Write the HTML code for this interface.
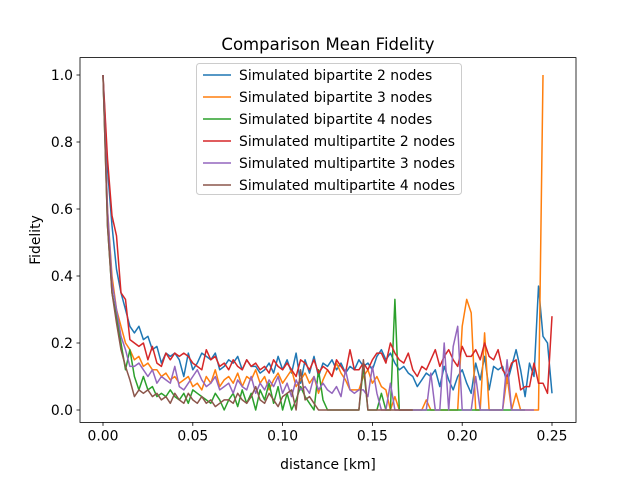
<!DOCTYPE html>
<html><head><meta charset="utf-8"><style>
body{margin:0;background:#fff}
svg{font-family:"DejaVu Sans","Liberation Sans",sans-serif}
</style></head><body>
<svg id="chart" width="640" height="480">
<rect width="640" height="480" fill="#fff"/>
<text x="328" y="50" font-size="16.5" text-anchor="middle">Comparison Mean Fidelity</text>
<g id="plot"></g>
<g id="axes"></g>
<g id="legend"></g>
</svg>
<script>
const step = 0.0025;
const seriesNames = ["Simulated bipartite 2 nodes","Simulated bipartite 3 nodes","Simulated bipartite 4 nodes","Simulated multipartite 2 nodes","Simulated multipartite 3 nodes","Simulated multipartite 4 nodes"];
const colors = ["#1f77b4","#ff7f0e","#2ca02c","#d62728","#9467bd","#8c564b"];
const xTicks = [0,0.05,0.10,0.15,0.20,0.25];
const xTickLabels = ["0.00","0.05","0.10","0.15","0.20","0.25"];
const yTicks = [0,0.2,0.4,0.6,0.8,1.0];
const yTickLabels = ["0.0","0.2","0.4","0.6","0.8","1.0"];
const blue = [1.0,0.72,0.55,0.42,0.35,0.30,0.25,0.23,0.25,0.21,
0.22,0.18,0.19,0.14,0.17,0.16,0.17,0.15,0.10,0.17,
0.12,0.14,0.17,0.16,0.15,0.17,0.12,0.13,0.15,0.14,
0.16,0.12,0.15,0.13,0.13,0.11,0.12,0.14,0.11,0.16,
0.12,0.15,0.11,0.17,0.08,0.15,0.11,0.16,0.10,0.14,
0.13,0.15,0.12,0.14,0.11,0.13,0.12,0.15,0.13,0.14,
0.12,0.16,0.18,0.15,0.17,0.14,0.12,0.13,0.11,0.10,
0.07,0.09,0.11,0.10,0.12,0.07,0.13,0.09,0.06,0.10,
0.12,0.08,0.05,0.14,0.09,0.16,0.06,0.13,0.12,0.13,
0.08,0.13,0.18,0.12,0.04,0.14,0.10,0.37,0.22,0.20,0.05];
const orange = [1.0,0.6,0.4,0.3,0.25,0.2,0.18,0.15,0.16,0.13,
0.14,0.12,0.12,0.10,0.11,0.09,0.10,0.08,0.09,0.10,
0.07,0.08,0.06,0.10,0.08,0.12,0.07,0.09,0.10,0.08,
0.11,0.07,0.10,0.09,0.12,0.08,0.10,0.06,0.09,0.11,
0.08,0.10,0.12,0.07,0.09,0.11,0.08,0.10,0.05,0.09,
0.12,0.10,0.14,0.11,0.09,0.06,0.06,0.06,0.10,0.12,
0.08,0.10,0.07,0.06,0.00,0.04,0.00,0.00,0.00,0.00,
0.00,0.00,0.03,0.00,0.00,0.00,0.00,0.00,0.00,0.00,
0.25,0.33,0.29,0.00,0.00,0.23,0.00,0.00,0.00,0.00,
0.10,0.00,0.05,0.00,0.00,0.00,0.00,0.00,1.0];
const green = [1.0,0.55,0.35,0.28,0.2,0.12,0.18,0.1,0.06,0.1,
0.06,0.07,0.04,0.05,0.04,0.06,0.04,0.03,0.05,0.02,
0.06,0.05,0.04,0.03,0.02,0.05,0.03,0.00,0.03,0.05,
0.01,0.06,0.02,0.05,0.00,0.06,0.03,0.08,0.02,0.07,
0.00,0.05,0.00,0.03,0.07,0.04,0.02,0.00,0.12,0.03,
0.00,0.00,0.00,0.00,0.00,0.00,0.00,0.00,0.13,0.00,
0.00,0.00,0.05,0.00,0.00,0.33,0.00,0.00,0.00,0.00,
0.00,0.00,0.00,0.00,0.00,0.00,0.00,0.00,0.00,0.00,
0.00,0.00,0.00,0.00,0.00,0.00,0.00,0.00,0.00,0.00,
0.00,0.00,0.00,0.00,0.00];
const red = [1.0,0.75,0.58,0.52,0.35,0.33,0.21,0.20,0.19,0.20,
0.15,0.19,0.14,0.13,0.17,0.15,0.17,0.16,0.17,0.16,
0.14,0.13,0.12,0.18,0.15,0.16,0.13,0.14,0.12,0.15,
0.13,0.12,0.15,0.13,0.14,0.12,0.13,0.11,0.15,0.13,
0.12,0.14,0.12,0.10,0.15,0.14,0.12,0.15,0.11,0.13,
0.12,0.10,0.15,0.13,0.11,0.18,0.12,0.12,0.14,0.12,
0.15,0.17,0.17,0.14,0.20,0.17,0.15,0.14,0.17,0.12,
0.10,0.13,0.12,0.15,0.18,0.13,0.16,0.18,0.15,0.13,
0.19,0.16,0.16,0.18,0.15,0.20,0.16,0.15,0.18,0.12,
0.10,0.14,0.15,0.06,0.07,0.07,0.14,0.08,0.08,0.05,0.28];
const purple = [1.0,0.6,0.38,0.3,0.22,0.18,0.13,0.13,0.14,0.12,
0.10,0.12,0.08,0.10,0.09,0.08,0.13,0.07,0.06,0.08,
0.10,0.12,0.09,0.07,0.08,0.10,0.06,0.07,0.08,0.05,
0.09,0.07,0.06,0.10,0.05,0.08,0.06,0.09,0.07,0.10,
0.05,0.08,0.04,0.09,0.06,0.07,0.05,0.10,0.06,0.08,
0.06,0.05,0.07,0.04,0.12,0.06,0.05,0.06,0.06,0.04,
0.13,0.05,0.00,0.00,0.08,0.00,0.00,0.00,0.00,0.00,
0.00,0.00,0.00,0.11,0.00,0.00,0.20,0.00,0.19,0.25,
0.00,0.00,0.00,0.10,0.00,0.00,0.00,0.00,0.00,0.00,
0.15,0.00,0.00,0.00,0.00,0.00,0.00];
const brown = [1.0,0.55,0.35,0.26,0.18,0.13,0.09,0.04,0.06,0.05,
0.06,0.04,0.05,0.03,0.04,0.02,0.05,0.03,0.02,0.05,
0.03,0.02,0.04,0.02,0.03,0.01,0.02,0.03,0.03,0.02,
0.05,0.03,0.02,0.04,0.07,0.03,0.02,0.05,0.03,0.01,
0.04,0.05,0.06,0.00,0.12,0.03,0.04,0.02,0.00,0.00,
0.00,0.00,0.00,0.00,0.00,0.00,0.00,0.00,0.15,0.00,
0.00,0.00,0.00,0.00,0.00,0.00,0.00,0.00,0.00,0.00];
const allSeries = [blue,orange,green,red,purple,brown];

const X0=80,X1=576,Y0=57.6,Y1=422.4;
function xs(v){return 103+v*(552-103)/0.25;}
function ys(v){return 410-v*(410-75);}
const NS="http://www.w3.org/2000/svg";
function mk(tag,attrs,parent){const e=document.createElementNS(NS,tag);for(const k in attrs)e.setAttribute(k,attrs[k]);parent.appendChild(e);return e;}
const plot=document.getElementById('plot'),axes=document.getElementById('axes'),legend=document.getElementById('legend');
allSeries.forEach((s,i)=>{
  const pts=s.map((v,j)=>xs(j*step).toFixed(1)+","+ys(v).toFixed(1)).join(" ");
  const pl=mk('polyline',{points:pts,fill:'none',stroke:colors[i],'stroke-width':1.5,'stroke-linejoin':'round'},plot);
  
  
});
const frame=mk('rect',{x:X0,y:Y0,width:X1-X0,height:Y1-Y0,fill:'none',stroke:'#000','stroke-width':0.8},axes);


xTicks.forEach((t,i)=>{
  const x=xs(t);
  mk('line',{x1:x,x2:x,y1:Y1,y2:Y1+3.5,stroke:'#000','stroke-width':0.8},axes);
  const tx=mk('text',{x:x,y:Y1+18,'font-size':13.9,'text-anchor':'middle'},axes);
  tx.textContent=xTickLabels[i];
  
  
});
yTicks.forEach((t,i)=>{
  const y=ys(t);
  mk('line',{x1:X0,x2:X0-3.5,y1:y,y2:y,stroke:'#000','stroke-width':0.8},axes);
  const tx=mk('text',{x:X0-7,y:y+5,'font-size':13.9,'text-anchor':'end'},axes);
  tx.textContent=yTickLabels[i];
  
  
});
const xl=mk('text',{x:328,y:469,'font-size':13.9,'text-anchor':'middle'},axes);
xl.textContent='distance [km]';


const yl=mk('text',{x:0,y:0,'font-size':13.9,'text-anchor':'middle',transform:'translate(40,240) rotate(-90)'},axes);
yl.textContent='Fidelity';


const box=mk('rect',{x:196.5,y:63.5,width:265,height:131,rx:3,fill:'#fff','fill-opacity':0.8,stroke:'#ccc','stroke-width':1},legend);


seriesNames.forEach((n,i)=>{
  const y=75+i*22;
  const ln=mk('line',{x1:203,x2:231,y1:y,y2:y,stroke:colors[i],'stroke-width':1.5},legend);
  
  
  const tx=mk('text',{x:239,y:y+5,'font-size':13.9},legend);
  tx.textContent=n;
  
  
});
</script>
</body></html>
